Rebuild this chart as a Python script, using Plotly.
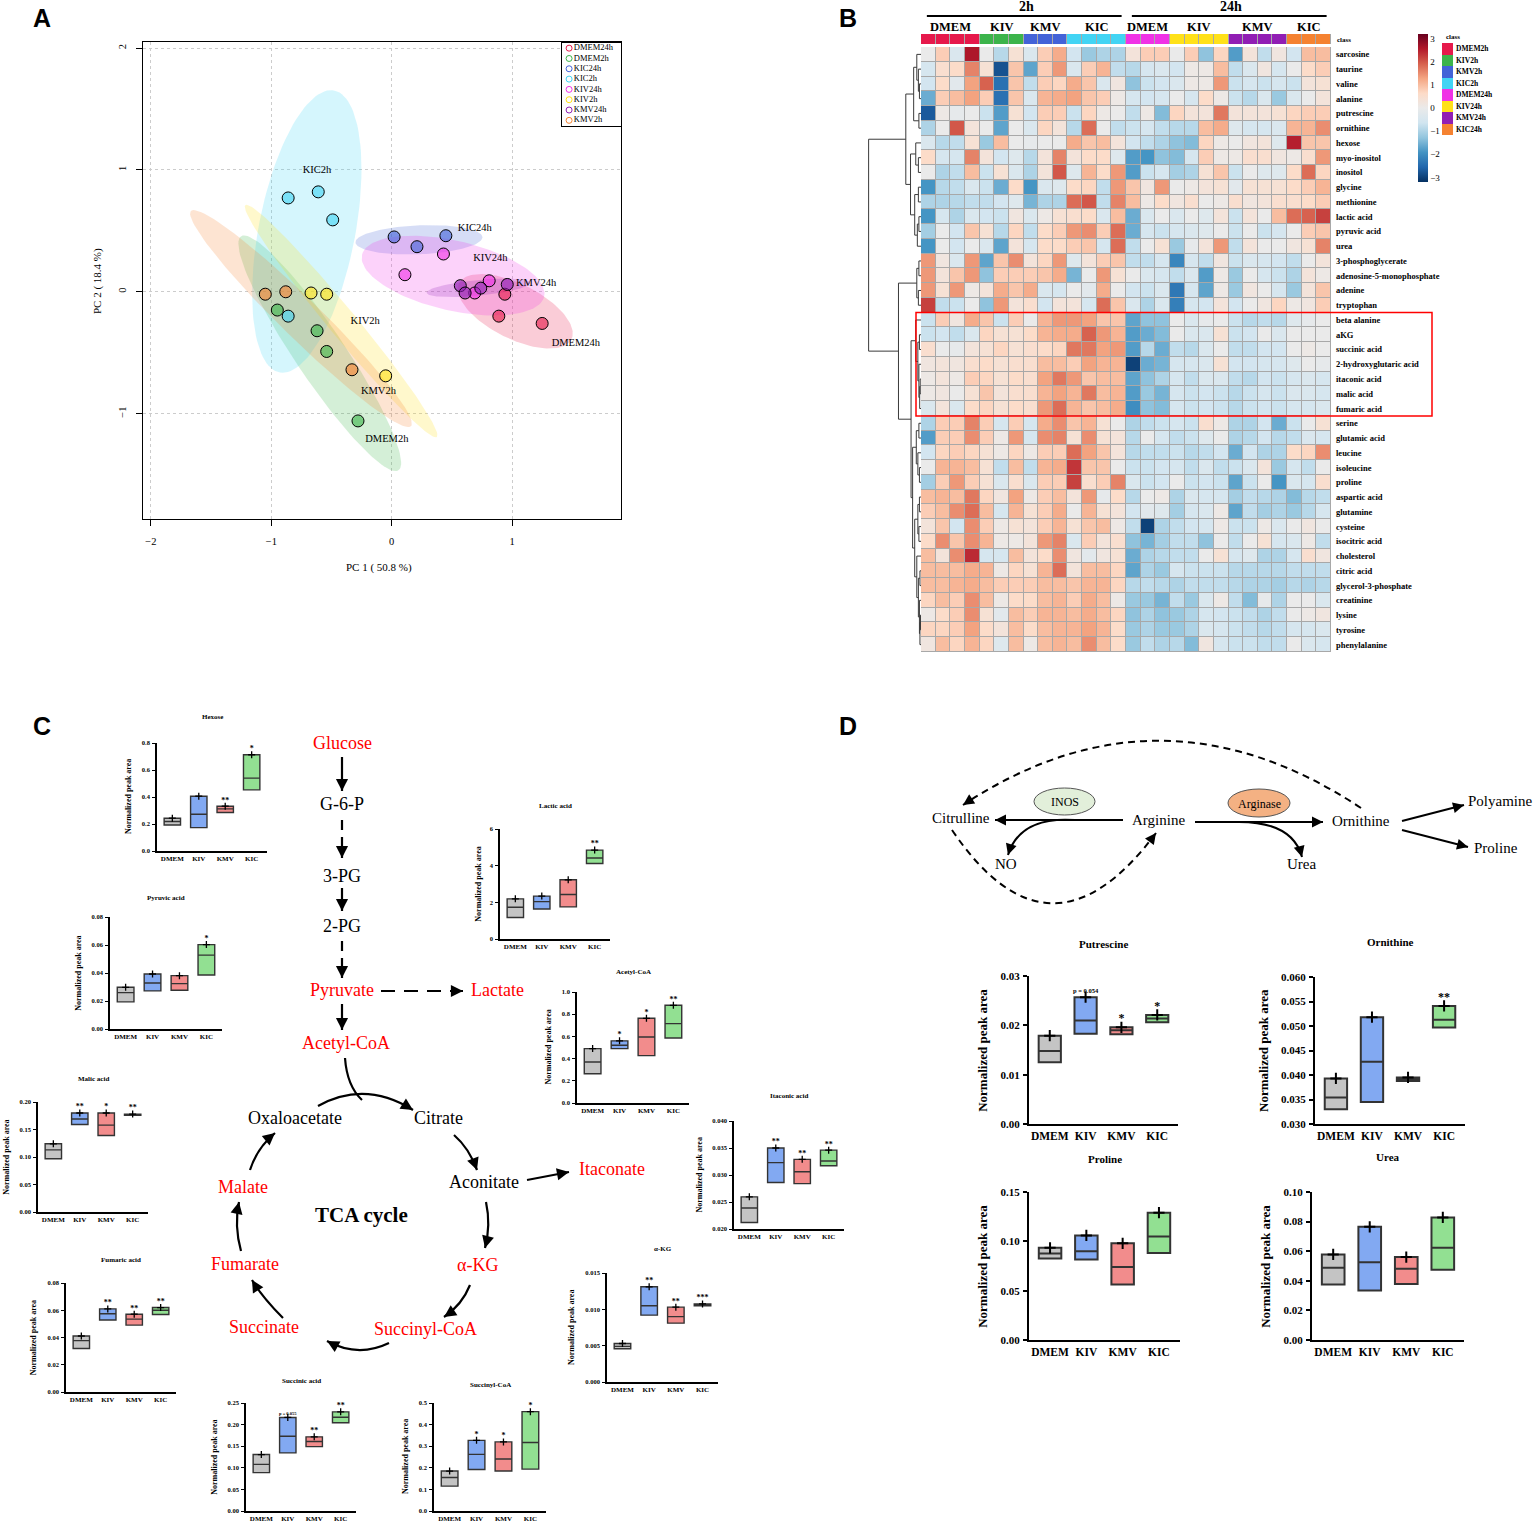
import numpy as np
import plotly.graph_objects as go

W, H = 1536, 1525
SERIF = "Liberation Serif"
SANS = "Liberation Sans"

# ---------------- A: PCA scores ----------------
pca_groups = ["DMEM24h", "DMEM2h", "KIC24h", "KIC2h", "KIV24h", "KIV2h", "KMV24h", "KMV2h"]
pca_colors = ["#E6194B", "#3CB44B", "#4363D8", "#42D4F4", "#F032E6", "#FFE119", "#911EB4", "#F58231"]
pc1_scores = [
    [0.94, 0.89, 1.25],
    [-0.95, -0.62, -0.54, -0.28],
    [0.02, 0.21, 0.45],
    [-0.86, -0.61, -0.49, -0.86],
    [0.11, 0.43, 0.81, 0.69],
    [-0.67, -0.54, -0.05],
    [0.57, 0.61, 0.74, 0.96],
    [-1.05, -0.88, -0.33],
]
pc2_scores = [
    [-0.02, -0.20, -0.26],
    [-0.15, -0.32, -0.49, -1.06],
    [0.45, 0.37, 0.46],
    [0.77, 0.82, 0.59, -0.20],
    [0.14, 0.31, 0.09, -0.01],
    [-0.01, -0.02, -0.69],
    [0.05, -0.01, 0.03, 0.06],
    [-0.02, 0.00, -0.64],
]
pca_label_x = [1.53, -0.04, 0.69, -0.62, 0.82, -0.22, 1.2, -0.11]
pca_label_y = [-0.42, -1.21, 0.52, 1.0, 0.27, -0.24, 0.07, -0.82]

# ---------------- B: heatmap ----------------
class_names = ["DMEM2h", "KIV2h", "KMV2h", "KIC2h", "DMEM24h", "KIV24h", "KMV24h", "KIC24h"]
class_colors = ["#E6194B", "#3CB44B", "#4363D8", "#42D4F4", "#F032E6", "#FFE119", "#911EB4", "#F58231"]
class_short = ["DMEM", "KIV", "KMV", "KIC", "DMEM", "KIV", "KMV", "KIC"]
column_class = [0, 0, 0, 0, 1, 1, 1, 2, 2, 2, 3, 3, 3, 3, 4, 4, 4, 5, 5, 5, 5, 6, 6, 6, 6, 7, 7, 7]
hm_rows = ["sarcosine", "taurine", "valine", "alanine", "putrescine", "ornithine", "hexose",
           "myo-inositol", "inositol", "glycine", "methionine", "lactic acid", "pyruvic acid", "urea",
           "3-phosphoglycerate", "adenosine-5-monophosphate", "adenine", "tryptophan", "beta alanine",
           "aKG", "succinic acid", "2-hydroxyglutaric acid", "itaconic acid", "malic acid", "fumaric acid",
           "serine", "glutamic acid", "leucine", "isoleucine", "proline", "aspartic acid", "glutamine",
           "cysteine", "isocitric acid", "cholesterol", "citric acid", "glycerol-3-phosphate",
           "creatinine", "lysine", "tyrosine", "phenylalanine"]
hm_values = [
    [0, 0.8, -0.4, 2.6, 0, -0.9, 0.4, -0.4, 0.8, 1.2, -0.6, -1.2, -1.0, -1.0, 0.3, 0.8, 0.8, 0, 0.8, -1.3, 0.7, -1.8, 0.3, -0.8, 0.2, -0.6, 1.0, 1.0],
    [-0.5, 0.5, 0.6, 1.6, 0.4, -2.8, 0.9, -1.7, 0.8, 1.4, -0.4, 0.8, 1.1, -0.8, -0.9, -0.5, -0.4, -0.6, 0.1, 0.1, 1.0, -0.8, -0.4, 0.2, -0.5, 0, 0.6, 0.8],
    [-0.6, 0.6, -0.2, 1.3, 1.9, -2.4, 0.9, -0.8, 0.8, 0.7, 1.2, 0.9, -0.4, 0.2, -1.3, -0.7, -0.6, -0.4, 0.1, 0.1, 1.4, -0.7, -0.5, -0.7, -0.5, -0.7, 0.3, 0.4],
    [-1.6, 0.8, 1.0, 1.3, 0.8, -2.4, 0.9, -0.4, 1.1, 1.2, 1.3, 0.9, 0.8, 0.1, -0.5, -0.6, -0.5, 0, -0.5, 0.6, 0.1, -0.7, -0.9, -0.4, -1.2, -0.4, 0, 0.3],
    [-2.7, 0.1, -0.1, 0, -0.7, -1.8, 0.4, -0.6, 0.8, 0.8, -0.7, 0.7, 0.1, 0, -0.8, 0.1, -1.4, 0.7, 0.3, 0.3, 1.7, 0.3, 0.3, 0.3, 0.4, 0.7, 0.8, 0.8],
    [-1.0, 0, 2.0, 0.3, 0, -1.7, 0, -0.4, 0.7, 0.3, -0.9, 1.8, 0, -0.8, -0.7, -0.5, -0.8, -0.9, -0.9, 1.0, 1.2, -0.3, -0.5, -0.5, -0.4, 1.1, 1.1, 1.5],
    [-0.4, -0.9, -0.8, 0.4, -1.2, 1.0, 0, -0.1, 0, 0, 1.2, 0.9, 1.0, 0.3, -0.6, -0.8, -1.0, -1.3, -1.4, 0.7, 0.1, 0, 0.2, 0.3, -0.3, 2.5, 0.9, 0.9],
    [0.6, -0.5, -0.5, 1.6, 0.3, -0.6, -0.3, -0.9, 0.3, 1.6, 0.3, 0.6, 0.6, -0.3, -1.8, -1.9, -1.3, -1.4, -0.5, 0.8, 0.1, 0.1, 0.5, 0.5, 0.2, 0.1, 0.5, 1.4],
    [0, -1.0, -0.8, 1.0, -0.7, 0.4, -0.4, -1.0, 0.3, 2.0, -0.3, 1.1, 0.6, 1.4, -1.8, -0.7, -0.5, -1.1, -1.0, 0.4, 0.9, -0.7, 0, -0.3, -0.3, 0.6, 1.8, 0.7],
    [-1.9, -0.9, -0.8, -0.4, -0.7, -1.6, 0.6, -1.9, -0.4, -0.3, 0.6, 0.7, -0.8, 1.4, 0.9, 0.2, 1.4, 0, 0.1, 0.3, 0.4, -0.2, 0.4, 0.4, 0.4, 0.6, 0.8, 1.1],
    [-1.0, -1.0, -0.9, -0.8, -0.8, -0.6, -0.3, -1.5, -1.0, -1.0, 1.8, 2.0, -0.8, 1.6, 1.0, 0.1, 0.6, 0.2, 0.5, 0, 0.1, 0.5, 0.2, 0.3, 0.5, 0.5, 0.6, 0.8],
    [-1.9, -0.5, -1.0, -0.4, -0.6, -0.7, 0.2, -0.4, 0.1, 0.4, 0.5, 0.6, -0.4, 1.0, -1.6, -0.4, 0, -0.4, 0, -0.3, 0.3, -0.7, 0.3, 0, 1.0, 1.8, 1.9, 2.2],
    [-1.1, 0, -0.6, 0.9, 0.4, -0.9, 0.7, -0.8, 0.6, 0.8, 1.4, 1.5, 0.8, 1.8, -1.6, -0.5, -0.7, -0.5, -0.4, -0.3, 0, -0.7, 0, -0.7, -0.5, 0, 0.8, 0.9],
    [-1.9, 0, -0.6, 0, -0.4, -1.7, 0.3, -0.5, 0.6, 0.6, 0.8, 0.9, -0.5, 1.8, -0.8, 0, 0.4, -1.2, -0.1, 0.3, 1.4, -0.8, 0.3, 0, 0, 0.2, 0.4, 1.6],
    [1.4, 0.2, -0.4, 1.4, -1.7, 0.9, 1.5, 0.3, 0.7, 1.4, -0.3, 0.3, 0.8, 0.9, -0.8, -0.8, -0.5, -2.1, -0.5, -0.8, 0.2, -0.7, -0.4, -0.5, -0.6, -0.8, 0, 0.3],
    [1.4, 0.3, 0.9, 1.4, -1.3, 0.8, 0.8, 0.8, 0.9, 1.2, -1.5, 0, 1.4, 0.4, 0, -0.4, -0.5, -0.8, -0.4, -1.8, 0.1, -1.2, 0, -0.5, -0.7, -1.0, 0.3, 0.1],
    [1.4, 0.4, 1.4, 0.1, 0.3, 1.2, 0.9, 1.2, -0.4, -0.5, 0, -0.2, 1.2, 0, -0.6, -0.7, -0.4, -2.3, -0.5, -1.7, 0.1, -1.2, 0.2, 0, -0.5, -1.2, 0.3, 0.9],
    [2.2, -0.8, -0.7, 0, -1.3, 1.4, 0.3, 0.5, -0.6, 0.3, 0.3, -0.5, 1.8, 0.9, -0.4, -1.0, -0.4, -2.2, -0.5, -0.6, 0.3, -0.6, 0, 0.2, 0.7, 0.1, 0.2, 0.8],
    [-0.7, 0.8, 0.2, 1.2, 0.9, -0.7, 0.8, 0, 1.1, 1.4, 1.4, 1.3, 0.9, 0.9, -1.7, -1.3, -1.3, 0, -0.4, -0.1, 0, -0.7, -0.9, -0.8, -0.9, -0.3, -0.1, 0],
    [-0.7, -0.6, -0.8, -0.4, 0.7, 0.4, 0.4, 0.6, 1.1, 1.2, 1.2, 1.9, 1.4, 1.1, -1.8, -1.6, -1.4, 0, -0.4, -0.4, 0.4, -0.7, -0.6, 0, -0.4, 0, 0, 0],
    [0.5, 0, -0.1, 0.3, 0.4, 0.7, 0.4, 0.5, 0.6, 0.7, 1.7, 1.7, 1.3, 1.4, -1.8, -0.9, -1.6, -0.8, -0.9, -0.4, 0, -0.8, -0.8, -0.6, -0.6, 0, 0.1, 0],
    [0.2, 0.3, 0.2, 0.5, 0.6, 0.4, 0.5, 0.5, 1.0, 1.0, 0.8, 1.3, 1.1, 1.1, -3.0, -1.6, -1.5, -0.5, -0.5, -0.4, 0.4, -0.6, -0.6, -0.5, -0.5, -0.3, 0, -0.1],
    [0.1, 0.3, 0.1, 0.8, 0.7, 0.4, 0.6, 0.5, 1.3, 1.7, 1.4, 0.9, 1.0, 1.0, -1.7, -1.3, -1.0, -0.5, -0.8, -0.4, -0.4, -0.8, -0.9, -0.6, -0.7, -0.5, -0.4, -0.5],
    [0.1, 0.2, 0, 0.4, 0.9, 0.3, 0.5, 0.5, 1.1, 1.3, 1.1, 1.7, 1.0, 1.1, -1.8, -1.2, -1.5, -0.5, -0.7, -0.6, -0.7, -0.9, -0.7, -0.5, -0.7, -0.4, -0.4, -0.5],
    [-0.4, 0.3, -0.4, 0.6, 0.7, 0.4, 0.6, 0.5, 1.4, 1.8, 1.1, 0.9, 1.0, 1.2, -2.0, -1.3, -1.4, -0.5, -0.7, -0.6, -0.7, -0.9, -0.7, -0.6, -0.7, -0.5, -0.5, -0.4],
    [-1.0, 0.8, 0.8, 1.6, 0.8, -0.5, 0.8, -0.5, 1.2, 1.5, 0.9, 1.1, 0.4, 0, -1.0, -0.8, -0.7, -0.5, -0.7, 0.5, 0.1, -1.0, -1.0, -0.6, -1.6, -0.7, 0, 0.4],
    [-1.8, 0.8, 0.8, 1.5, 0.8, 0.1, 1.4, -0.5, 1.5, 1.6, 0.4, 1.5, 0.4, 0.3, -0.9, 0, -0.5, -0.8, -0.7, -0.3, 0, -1.0, -0.9, -0.6, -0.9, -0.8, -0.4, -0.5],
    [-0.6, 0.7, 0.8, 0.7, 0.4, 0.1, 0.7, 0.1, 0.8, 0.8, 1.8, 1.3, 0.9, 0.3, -0.9, -0.8, -0.8, -0.7, -0.9, -0.8, -0.6, -1.6, -0.6, -1.0, -1.0, 0.6, 0.7, 1.5],
    [0, 1.1, 1.1, 1.0, 0.4, -0.8, 1.0, -0.8, 1.1, 1.2, 2.3, 0.9, 0.9, 0, -0.7, -0.7, -0.6, -0.5, -0.8, -0.4, -0.8, -0.7, -0.4, 0.3, -1.2, -0.5, -0.8, 0],
    [-1.1, 0.8, 1.4, 0.8, 0.4, -0.4, 0.5, -0.4, 0.8, 0.8, 2.2, 0.5, 0.8, 1.6, -0.4, -0.7, -0.6, 0, -0.7, -0.6, -0.7, -1.7, -0.7, 0, -1.9, -0.4, -0.5, 0.5],
    [1.0, 1.1, 1.0, 1.7, 0.7, 0.2, 1.3, 0.1, 0.8, 1.0, 0.3, 1.4, -0.1, 0.6, -0.9, 0, 0.1, -1.0, -0.4, -0.5, -0.5, -1.1, -0.8, -0.9, -1.0, -1.4, -0.9, -0.8],
    [0.8, 1.0, 1.5, 1.8, 1.0, -0.5, 1.1, 0.4, 0.8, 1.2, 0, 1.1, 0.4, 0.3, -0.6, -0.2, -0.3, -1.1, -0.5, -0.4, 0.1, -1.7, -0.8, -1.1, -1.0, -1.2, -0.9, -0.5],
    [0.3, 0.9, -0.6, 1.5, 0.8, 0.1, 0.4, 0.3, 0.8, 1.1, 0.4, 0.9, 1.0, 0.1, -0.8, -3.0, -1.0, -0.8, -0.6, -0.5, 0.1, -0.7, -0.7, 0.1, -0.4, 0, 0.2, 0],
    [0.6, 1.5, 0.9, 1.5, 1.1, 0.1, 0.1, 0.3, 1.4, 1.6, -0.4, 0.8, 0.3, 0.5, -1.3, -1.5, -1.1, -0.8, -0.8, -1.3, 0, -0.8, 0, 0.4, -0.5, -0.4, 0.1, -0.8],
    [1.0, 0.3, 1.5, 2.4, -0.5, -0.5, 1.0, 0.3, 0.6, 1.5, 0.2, -0.2, 0.2, 0.4, -1.6, -1.0, -0.9, -0.8, -0.8, 0, 0.4, -0.5, -0.3, -1.0, -1.0, -0.5, 0.5, 0.2],
    [1.0, 1.0, 1.0, 1.2, 1.1, 0.1, 0.7, 0.4, 1.1, 1.8, 0.3, 1.0, 1.0, 0.7, -1.7, -1.0, -1.2, -0.5, -0.7, -0.7, -0.7, -0.9, -0.9, -0.9, -0.9, -0.8, -0.8, -0.8],
    [1.0, 1.0, 1.1, 1.2, 1.0, 0.8, 0.8, 0.8, 1.0, 1.0, 0.9, 1.1, 1.1, 0.7, -0.9, -0.8, -0.9, -1.0, -0.8, -0.8, -0.8, -0.9, -1.0, -1.0, -1.1, -0.9, -1.0, -0.9],
    [0.7, 1.0, 0.8, 1.5, 1.0, 0.1, 0.6, 0.6, 1.0, 1.1, 0.8, 1.2, 1.0, 0.1, -1.2, -1.2, -1.5, -0.8, -1.2, -0.4, 0.1, -0.8, -1.4, -0.1, -1.0, 0, 0, -0.4],
    [0.1, 0.6, 0.8, 1.5, 0.4, -0.2, 1.0, 0.8, 1.1, 1.1, 1.0, 1.2, 1.0, 0.7, -1.3, -1.0, -1.3, -1.2, -1.0, -0.5, -0.6, -0.7, -0.8, -1.0, -0.8, 0, 0.1, 0.2],
    [0.7, 0.7, 0.8, 1.3, 0.6, 0.3, 1.0, 0.6, 1.0, 1.1, 1.1, 1.3, 1.1, 0.6, -1.2, -1.0, -1.2, -1.2, -1.0, -0.4, -0.5, -0.7, -0.8, -0.9, -0.8, -0.5, -0.5, -0.4],
    [0.2, 1.0, 0.7, 1.1, 0.7, -0.3, 1.0, 0.1, 1.0, 1.1, 1.0, 1.5, 1.0, 0.6, -1.2, -0.8, -1.0, -0.9, -1.4, 0.2, -0.5, -0.7, -0.7, -0.8, -0.8, 0, -0.4, -0.5],
]
# row dendrogram: [height, left, right], leaves are row indices
dendro_tree = [1.0,
    [0.29,
        [0.14, [0.08, 0, [0.05, 1, [0.03, 2, 3]]], [0.04, 4, 5]],
        [0.2, [0.1, 6, [0.05, 7, 8]], [0.12, [0.05, 9, 10], [0.07, [0.04, 11, 12], 13]]]],
    [0.43,
        [0.08, [0.04, 14, 15], [0.05, 16, 17]],
        [0.19,
            [0.1, 18, [0.06, [0.03, 19, 20], [0.04, 21, [0.025, [0.015, 22, 23], 24]]]],
            [0.16, [0.09, [0.04, 25, 26], [0.06, 27, [0.03, 28, 29]]],
                   [0.12, [0.06, [0.03, 30, 31], [0.04, 32, 33]],
                          [0.08, 34, [0.05, [0.02, 35, 36], [0.03, 37, [0.02, [0.01, 38, 39], 40]]]]]]]]]

# ---------------- C / D: floating bars (min, line, max) ----------------
treatments = ["DMEM", "KIV", "KMV", "KIC"]
treat_colors = ["#C4C4C4", "#82A9F2", "#F28C8C", "#92E092"]
box_names = ["Hexose", "Pyruvic acid", "Lactic acid", "Acetyl-CoA", "Malic acid", "Itaconic acid",
             "α-KG", "Fumaric acid", "Succinic acid", "Succinyl-CoA",
             "Putrescine", "Ornithine", "Proline", "Urea"]
box_low = [
    [0.193, 0.173, 0.285, 0.453], [0.0194, 0.0272, 0.0277, 0.0386], [1.17, 1.64, 1.75, 4.12],
    [0.264, 0.49, 0.427, 0.586], [0.0967, 0.159, 0.139, 0.176], [0.0212, 0.0286, 0.0284, 0.0317],
    [0.00457, 0.0092, 0.0081, 0.0105], [0.0319, 0.0528, 0.0491, 0.0569], [0.0889, 0.1345, 0.149, 0.2044],
    [0.115, 0.192, 0.185, 0.194], [0.0125, 0.0183, 0.0182, 0.0206], [0.033, 0.0345, 0.0388, 0.0497],
    [0.0826, 0.0816, 0.0563, 0.0883], [0.0375, 0.0334, 0.0379, 0.0474]]
box_mid = [
    [0.218, 0.272, 0.312, 0.54], [0.026, 0.0329, 0.0324, 0.0528], [1.73, 2.04, 2.43, 4.42],
    [0.37, 0.52, 0.595, 0.715], [0.113, 0.169, 0.158, 0.177], [0.0239, 0.0323, 0.0306, 0.0326],
    [0.0049, 0.0105, 0.009, 0.0106], [0.0377, 0.0574, 0.0535, 0.06], [0.108, 0.173, 0.161, 0.217],
    [0.155, 0.262, 0.241, 0.317], [0.0148, 0.021, 0.019, 0.0214], [0.0354, 0.0427, 0.0392, 0.0513],
    [0.0876, 0.09, 0.074, 0.105], [0.0488, 0.0526, 0.0481, 0.0623]]
box_high = [
    [0.243, 0.406, 0.332, 0.713], [0.0298, 0.0393, 0.0381, 0.0603], [2.19, 2.34, 3.23, 4.85],
    [0.49, 0.56, 0.763, 0.88], [0.124, 0.18, 0.18, 0.178], [0.02595, 0.035, 0.0329, 0.0346],
    [0.0053, 0.0131, 0.0103, 0.01075], [0.0411, 0.061, 0.0571, 0.062], [0.1307, 0.2166, 0.1717, 0.2295],
    [0.185, 0.327, 0.32, 0.46], [0.0179, 0.0257, 0.0196, 0.0221], [0.0393, 0.0518, 0.0395, 0.0541],
    [0.0934, 0.106, 0.098, 0.129], [0.0578, 0.0765, 0.056, 0.0828]]
box_sig = [
    ["", "", "**", "*"], ["", "", "", "*"], ["", "", "", "**"], ["", "*", "*", "**"],
    ["", "**", "*", "**"], ["", "**", "**", "**"], ["", "**", "**", "***"], ["", "**", "**", "**"],
    ["", "p = 0.055", "**", "**"], ["", "*", "*", "*"], ["", "p = 0.054", "*", "*"],
    ["", "", "", "**"], ["", "", "", ""], ["", "", "", ""]]
box_ymin = [0, 0, 0, 0, 0, 0.02, 0, 0, 0, 0, 0, 0.03, 0, 0]
box_ymax = [0.8, 0.08, 6, 1.0, 0.20, 0.040, 0.015, 0.08, 0.25, 0.5, 0.03, 0.060, 0.15, 0.10]
box_dtick = [0.2, 0.02, 2, 0.2, 0.05, 0.005, 0.005, 0.02, 0.05, 0.1, 0.01, 0.005, 0.05, 0.02]
box_fmt = [".1f", ".2f", "d", ".1f", ".2f", ".3f", ".3f", ".2f", ".2f", ".1f", ".2f", ".3f", ".2f", ".2f"]

# plot frames in page pixels: y-axis x, x-axis end, top, bottom, title y
box_frames = [
    (157, 267, 743, 851, 717), (110, 222, 917, 1029, 898), (500, 610, 829, 939, 806),
    (577, 689, 992, 1103, 972), (38, 148, 1102, 1212, 1079), (734, 844, 1121, 1229, 1096),
    (607, 718, 1273, 1382, 1249), (66, 176, 1283, 1392, 1260), (246, 356, 1403, 1511, 1381),
    (434, 546, 1403, 1511, 1385), (1029, 1178, 976, 1124, 944), (1315, 1465, 977, 1124, 942),
    (1029, 1180, 1192, 1340, 1159), (1312, 1464, 1192, 1340, 1157)]

# ===================================================================
layout = {}
annotations = []
shapes = []
traces = []
n_ax = [0]


def add_axes(x0, x1, y0, y1, xa=None, ya=None):
    n_ax[0] += 1
    k = n_ax[0]
    s = "" if k == 1 else str(k)
    base = dict(automargin=False, showgrid=False, zeroline=False, showline=False, ticks="",
                showticklabels=False, fixedrange=True)
    xd = dict(base, domain=[x0 / W, x1 / W], anchor="y" + s)
    xd.update(xa or {})
    yd = dict(base, domain=[1 - y1 / H, 1 - y0 / H], anchor="x" + s)
    yd.update(ya or {})
    layout["xaxis" + s] = xd
    layout["yaxis" + s] = yd
    return "x" + s, "y" + s


def text(x, y, t, size, color="black", bold=False, family=SERIF, angle=0, xanchor="center"):
    annotations.append(dict(x=x / W, y=1 - y / H, xref="paper", yref="paper", text=t, showarrow=False,
                            font=dict(family=family, size=size, color=color,
                                      weight="bold" if bold else "normal"),
                            textangle=angle, xanchor=xanchor, yanchor="middle"))


def arrow(x0, y0, x1, y1, ctrl=None, dash="solid", width=2.2, head=True, hl=8, hs=1.1):
    P = lambda x, y: f"{x / W},{1 - y / H}"
    if ctrl is None:
        path = f"M {P(x0, y0)} L {P(x1, y1)}"
        dx, dy = x1 - x0, y1 - y0
    else:
        path = f"M {P(x0, y0)} Q {P(*ctrl)} {P(x1, y1)}"
        dx, dy = x1 - ctrl[0], y1 - ctrl[1]
    shapes.append(dict(type="path", path=path, xref="paper", yref="paper",
                       line=dict(color="black", width=width, dash=dash)))
    if head:
        L = np.hypot(dx, dy)
        annotations.append(dict(x=x1 / W, y=1 - y1 / H, xref="paper", yref="paper", text="",
                                showarrow=True, ax=-dx / L * hl, ay=-dy / L * hl, axref="pixel",
                                ayref="pixel", arrowhead=2, arrowsize=hs, arrowwidth=width,
                                arrowcolor="black", standoff=0))


def rgba(hexc, a):
    h = hexc.lstrip("#")
    return f"rgba({int(h[0:2], 16)},{int(h[2:4], 16)},{int(h[4:6], 16)},{a})"


# ---------------- panel letters ----------------
for letter, (lx, ly) in zip("ABCD", [(42, 18), (848, 18), (42, 726), (848, 726)]):
    text(lx, ly, letter, 25, bold=True, family=SANS)

# ---------------- A ----------------
tick_font = dict(family=SERIF, size=10.5, color="black")
ax_a, ay_a = add_axes(143, 621, 42, 519,
    xa=dict(range=[-2.066, 1.905], showline=True, mirror=True, linecolor="black", linewidth=1,
            ticks="outside", ticklen=6, tickcolor="black", tickvals=[-2, -1, 0, 1], showticklabels=True,
            tickfont=tick_font, showgrid=True, gridcolor="#CCCCCC", griddash="dot", ticklabelstandoff=6),
    ya=dict(range=[-1.865, 2.05], showline=True, mirror=True, linecolor="black", linewidth=1,
            ticks="outside", ticklen=6, tickcolor="black", tickvals=[-1, 0, 1, 2], showticklabels=True,
            tickfont=tick_font, tickangle=-90, showgrid=True, gridcolor="#CCCCCC", griddash="dot",
            ticklabelstandoff=6))

t = np.linspace(0, 2 * np.pi, 120)
chi = np.sqrt(5.991)  # 95% level for 2 dof
for g, col, xs, ys in zip(pca_groups, pca_colors, pc1_scores, pc2_scores):
    pts = np.column_stack([xs, ys])
    mu = pts.mean(axis=0)
    vals, vecs = np.linalg.eigh(np.cov(pts.T))
    ell = (np.column_stack([np.cos(t), np.sin(t)]) * np.sqrt(np.clip(vals, 0, None)) * chi) @ vecs.T + mu
    traces.append(go.Scatter(x=ell[:, 0], y=ell[:, 1], mode="lines", fill="toself",
                             fillcolor=rgba(col, 0.22), line=dict(width=0), xaxis=ax_a, yaxis=ay_a,
                             hoverinfo="skip"))
for g, col, xs, ys in zip(pca_groups, pca_colors, pc1_scores, pc2_scores):
    traces.append(go.Scatter(x=xs, y=ys, mode="markers", name=g, xaxis=ax_a, yaxis=ay_a,
                             marker=dict(size=12, color=rgba(col, 0.62), line=dict(color="black", width=1))))
traces.append(go.Scatter(x=pca_label_x, y=pca_label_y, text=pca_groups, mode="text", xaxis=ax_a, yaxis=ay_a,
                         textfont=dict(family=SERIF, size=10.5, color="black"), hoverinfo="skip"))
text(379, 567, "PC 1 ( 50.8 %)", 11)
text(97, 281, "PC 2 ( 18.4 %)", 11, angle=-90)

# legend box
ax_l, ay_l = add_axes(562, 621, 43, 126,
    xa=dict(range=[0, 1], showline=True, mirror=True, linecolor="black", linewidth=1),
    ya=dict(range=[7.55, -0.5], showline=True, mirror=True, linecolor="black", linewidth=1))
traces.append(go.Scatter(x=[0.12] * 8, y=list(range(8)), mode="markers+text", text=pca_groups,
                         textposition="middle right", xaxis=ax_l, yaxis=ay_l, cliponaxis=False,
                         textfont=dict(family=SERIF, size=8.5, color="black"),
                         marker=dict(symbol="circle-open", size=6, color=pca_colors, line=dict(width=1))))

# ---------------- B ----------------
hm_scale = [[0.0, "#053061"], [0.1, "#2166AC"], [0.2, "#4393C3"], [0.3, "#92C5DE"], [0.4, "#D1E5F0"],
            [0.5, "#EAEAEA"], [0.6, "#FDDBC7"], [0.7, "#F4A582"], [0.8, "#D6604D"], [0.9, "#B2182B"],
            [1.0, "#67001F"]]
n_rows, n_cols = len(hm_rows), len(column_class)
ax_h, ay_h = add_axes(921, 1331, 47, 652,
    xa=dict(range=[-0.5, n_cols - 0.5]),
    ya=dict(range=[n_rows - 0.5, -0.5], side="right", showticklabels=True, tickvals=list(range(n_rows)),
            ticktext=hm_rows, tickfont=dict(family=SERIF, size=8.5, color="black", weight="bold"),
            ticklabelstandoff=4))
shapes.append(dict(type="rect", xref=f"{ax_h} domain", yref=f"{ay_h} domain", x0=0, x1=1, y0=0, y1=1,
                   fillcolor="#A8A8A8", line=dict(width=0), layer="below"))
traces.append(go.Heatmap(z=hm_values, x=list(range(n_cols)), y=list(range(n_rows)), colorscale=hm_scale,
                         zmin=-3.2, zmax=3.2, xgap=1, ygap=1, xaxis=ax_h, yaxis=ay_h, hoverinfo="skip",
                         colorbar=dict(x=1418 / W, xanchor="left", y=1 - 34 / H, yanchor="top",
                                       len=148 / H, lenmode="fraction", thickness=10, thicknessmode="pixels",
                                       tickvals=[-3, -2, -1, 0, 1, 2, 3], ticks="", outlinewidth=0,
                                       xpad=0, ypad=0, tickfont=dict(family=SERIF, size=9))))
shapes.append(dict(type="rect", xref="paper", yref=ay_h, x0=916 / W, x1=1432 / W, y0=17.5, y1=24.5,
                   line=dict(color="#FF0000", width=1.5)))

# class annotation bar
nc = len(class_names)
disc = []
for i, c in enumerate(class_colors):
    disc += [[i / nc, c], [(i + 1) / nc, c]]
ax_c, ay_c = add_axes(921, 1331, 34, 44, xa=dict(range=[-0.5, n_cols - 0.5]), ya=dict(range=[-0.5, 0.5]))
shapes.append(dict(type="rect", xref=f"{ax_c} domain", yref=f"{ay_c} domain", x0=0, x1=1, y0=0, y1=1,
                   fillcolor="#A8A8A8", line=dict(width=0), layer="below"))
traces.append(go.Heatmap(z=[column_class], x=list(range(n_cols)), y=[0], colorscale=disc, zmin=-0.5,
                         zmax=nc - 0.5, xgap=1, ygap=0, showscale=False, xaxis=ax_c, yaxis=ay_c,
                         hoverinfo="skip"))
text(1335, 40, "class", 7, bold=True, xanchor="left")

# group headers from column classes
for gi in range(nc):
    cols = [i for i, c in enumerate(column_class) if c == gi]
    annotations.append(dict(x=np.mean(cols), y=1 - 27 / H, xref=ax_h, yref="paper", text=class_short[gi],
                            showarrow=False, xanchor="center", yanchor="middle",
                            font=dict(family=SERIF, size=12.5, color="black", weight="bold")))
for label, groups in [("2h", [0, 1, 2, 3]), ("24h", [4, 5, 6, 7])]:
    cols = [i for i, c in enumerate(column_class) if c in groups]
    annotations.append(dict(x=(min(cols) + max(cols)) / 2 + 0.2, y=1 - 6 / H, xref=ax_h, yref="paper",
                            text=label, showarrow=False, xanchor="center", yanchor="middle",
                            font=dict(family=SERIF, size=14, color="black", weight="bold")))
    shapes.append(dict(type="line", xref=ax_h, yref="paper", x0=min(cols) - 0.1, x1=max(cols) + 0.2,
                       y0=1 - 16 / H, y1=1 - 16 / H, line=dict(color="black", width=2)))

# class legend
ax_k, ay_k = add_axes(1442, 1453, 43, 135, xa=dict(range=[-0.5, 0.5]),
    ya=dict(range=[nc - 0.5, -0.5], side="right", showticklabels=True, tickvals=list(range(nc)),
            ticktext=class_names, tickfont=dict(family=SERIF, size=7.5, color="black", weight="bold"),
            ticklabelstandoff=2))
traces.append(go.Heatmap(z=[[i] for i in range(nc)], x=[0], y=list(range(nc)), colorscale=disc, zmin=-0.5,
                         zmax=nc - 0.5, showscale=False, xaxis=ax_k, yaxis=ay_k, hoverinfo="skip"))
text(1444, 37, "class", 7, bold=True, xanchor="left")

# row dendrogram
dx_list, dy_list = [], []


def walk(node):
    if isinstance(node, int):
        return float(node), 0.0
    h, left, right = node
    pl, hl_ = walk(left)
    pr, hr_ = walk(right)
    dx_list.extend([hl_, h, h, hr_, None])
    dy_list.extend([pl, pl, pr, pr, None])
    return (pl + pr) / 2, h


walk(dendro_tree)
ax_d, ay_d = add_axes(866, 921, 47, 652, xa=dict(range=[1.05, 0]), ya=dict(range=[n_rows - 0.5, -0.5]))
traces.append(go.Scatter(x=dx_list, y=dy_list, mode="lines", line=dict(color="#3A3A3A", width=1),
                         xaxis=ax_d, yaxis=ay_d, hoverinfo="skip", cliponaxis=False))

# ---------------- C / D small charts ----------------
for i, name in enumerate(box_names):
    x0, x1, yt, yb, ty = box_frames[i]
    small = i < 10
    tf = 6.5 if small else 11
    rng = box_ymax[i] - box_ymin[i]
    xr, yr = add_axes(x0, x1, yt, yb,
        xa=dict(range=[-0.58, 3.58], showline=True, linecolor="black", linewidth=1.5 if small else 2,
                tickvals=[0, 1, 2, 3], ticktext=treatments, showticklabels=True, ticklabelstandoff=0,
                tickfont=dict(family=SERIF, size=tf + 0.5, color="black", weight="bold")),
        ya=dict(range=[box_ymin[i], box_ymax[i]], showline=True, linecolor="black",
                linewidth=1.5 if small else 2, ticks="outside", ticklen=3 if small else 4,
                tickwidth=1.2 if small else 1.8, tickcolor="black", tick0=box_ymin[i], dtick=box_dtick[i],
                tickformat=box_fmt[i], showticklabels=True, ticklabelstandoff=1,
                tickfont=dict(family=SERIF, size=tf, color="black", weight="bold")))
    for j in range(4):
        traces.append(go.Box(x=[j], q1=[box_low[i][j]], median=[box_mid[i][j]], q3=[box_high[i][j]],
                             lowerfence=[box_low[i][j]], upperfence=[box_high[i][j]], width=0.62,
                             fillcolor=treat_colors[j], line=dict(color="#333333", width=1.4 if small else 2),
                             whiskerwidth=0, boxpoints=False, xaxis=xr, yaxis=yr, hoverinfo="skip"))
    traces.append(go.Scatter(x=[0, 1, 2, 3], y=box_high[i], mode="markers", xaxis=xr, yaxis=yr,
                             marker=dict(symbol="cross-thin", size=5 if small else 8,
                                         line=dict(width=1.3 if small else 2, color="black")),
                             hoverinfo="skip", cliponaxis=False))
    for j, s in enumerate(box_sig[i]):
        if not s:
            continue
        is_p = s.startswith("p")
        traces.append(go.Scatter(x=[j], y=[box_high[i][j] + 0.015 * rng], mode="text", text=[s],
                                 textposition="top center", xaxis=xr, yaxis=yr, cliponaxis=False,
                                 textfont=dict(family=SERIF, size=(4.5 if small else 6.5) if is_p else (8 if small else 12),
                                               color="black", weight="bold"), hoverinfo="skip"))
    text((x0 + x1) / 2, ty, name, 7 if small else 11, bold=True)
    nchar = len(format(box_ymax[i], box_fmt[i])) if box_fmt[i] != "d" else 1
    off = (19 + 3.3 * nchar) if small else (30 + 4.3 * nchar)
    text(x0 - off, (yt + yb) / 2, "Normalized peak area", 8 if small else 13, bold=True, angle=-90)

# ---------------- C pathway drawing ----------------
c_nodes = [("Glucose", 342, 743, "#FF0000"), ("G-6-P", 342, 804, "black"), ("3-PG", 342, 876, "black"),
           ("2-PG", 342, 926, "black"), ("Pyruvate", 342, 990, "#FF0000"), ("Lactate", 497, 990, "#FF0000"),
           ("Acetyl-CoA", 346, 1043, "#FF0000"), ("Oxaloacetate", 295, 1118, "black"),
           ("Citrate", 438, 1118, "black"), ("Aconitate", 484, 1182, "black"),
           ("Itaconate", 612, 1169, "#FF0000"), ("α-KG", 477, 1265, "#FF0000"),
           ("Succinyl-CoA", 425, 1329, "#FF0000"), ("Succinate", 264, 1327, "#FF0000"),
           ("Fumarate", 245, 1264, "#FF0000"), ("Malate", 243, 1187, "#FF0000")]
for nm, x, y, col in c_nodes:
    text(x, y, nm, 18, color=col)
text(361, 1215, "TCA cycle", 21, bold=True)

DASH_C = "10px,7px"
arrow(342, 757, 342, 791)
arrow(342, 820, 342, 858, dash=DASH_C)
arrow(342, 888, 342, 911)
arrow(342, 941, 342, 978, dash=DASH_C)
arrow(381, 991, 463, 991, dash="14px,9px")
arrow(342, 1004, 342, 1030)
arrow(345, 1058, 362, 1100, ctrl=(347, 1086), head=False)
arrow(318, 1106, 413, 1110, ctrl=(365, 1080))
arrow(454, 1135, 477, 1170, ctrl=(469, 1148))
arrow(527, 1180, 569, 1172)
arrow(486, 1202, 485, 1248, ctrl=(491, 1225))
arrow(470, 1285, 444, 1317, ctrl=(462, 1305))
arrow(389, 1343, 327, 1341, ctrl=(358, 1358))
arrow(283, 1318, 252, 1280, ctrl=(262, 1297))
arrow(241, 1251, 239, 1202, ctrl=(234, 1226))
arrow(250, 1170, 275, 1133, ctrl=(257, 1148))

# ---------------- D pathway drawing ----------------
shapes.append(dict(type="circle", xref="paper", yref="paper", x0=1034 / W, x1=1095 / W,
                   y0=1 - 815 / H, y1=1 - 788 / H, fillcolor="#E2EFDA", line=dict(color="#555555", width=1)))
shapes.append(dict(type="circle", xref="paper", yref="paper", x0=1228 / W, x1=1290 / W,
                   y0=1 - 817 / H, y1=1 - 789 / H, fillcolor="#F4B183", line=dict(color="#555555", width=1)))
text(1064.5, 801.5, "INOS", 12)
text(1259, 803.5, "Arginase", 12)
d_nodes = [("Citrulline", 961, 818), ("Arginine", 1158, 820), ("Ornithine", 1361, 821),
           ("Polyamine", 1500, 801), ("Proline", 1496, 848), ("NO", 1006, 864), ("Urea", 1301, 864)]
for nm, x, y in d_nodes:
    text(x, y, nm, 15)
arrow(1123, 820, 995, 820, width=2)
arrow(1075, 820, 1008, 855, ctrl=(1020, 816), width=2)
arrow(1195, 822, 1323, 822, width=2)
arrow(1233, 822, 1302, 857, ctrl=(1292, 820), width=2)
arrow(1402, 821, 1464, 805, width=2)
arrow(1402, 830, 1468, 847, width=2)
arrow(1361, 808, 963, 805, ctrl=(1160, 675), dash="7px,5px", width=2)
arrow(952, 830, 1156, 833, ctrl=(1050, 975), dash="7px,5px", width=2)

fig = go.Figure(data=traces)
fig.update_layout(**layout)
fig.update_layout(width=W, height=H, margin=dict(l=0, r=0, t=0, b=0), paper_bgcolor="white",
                  plot_bgcolor="white", showlegend=False, annotations=annotations, shapes=shapes,
                  font=dict(family=SERIF, color="black"), boxmode="overlay")
fig.write_html("out.html", config={"displayModeBar": False},
               post_script="document.body.style.margin='0px';document.body.style.padding='0px';")
